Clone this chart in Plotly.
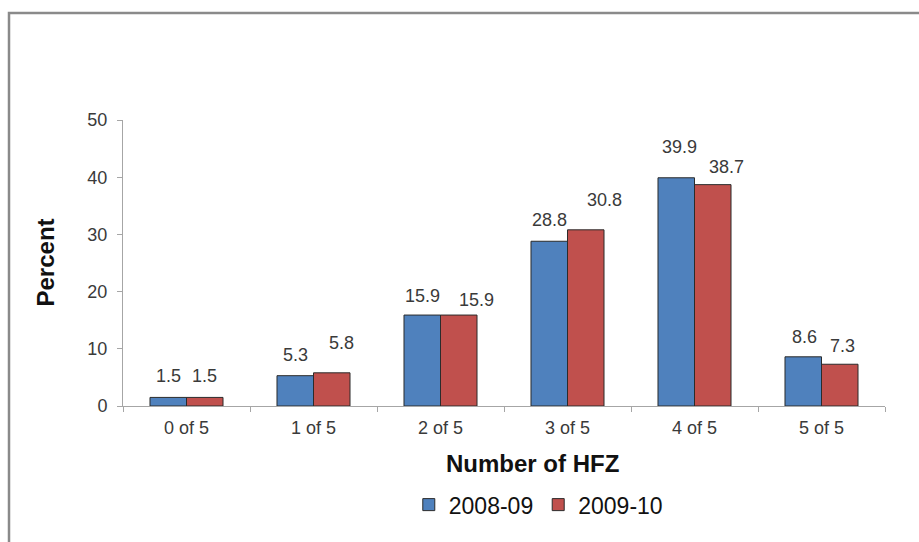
import plotly.graph_objects as go

categories = ["0 of 5", "1 of 5", "2 of 5", "3 of 5", "4 of 5", "5 of 5"]
series_names = ["2008-09", "2009-10"]
values_0809 = [1.5, 5.3, 15.9, 28.8, 39.9, 8.6]
values_0910 = [1.5, 5.8, 15.9, 30.8, 38.7, 7.3]
colors = ["#4F81BD", "#C0504D"]

# Pixel nudges for the value labels (x offset from bar centre, height above bar top)
label_dx = [[0, 0, 0, 0, 3, 1], [0, 10, 18, 19, 14, 3]]
label_dy = [[21, 21, 19, 21, 31, 20], [21, 30, 15, 30, 18, 18]]
bar_half = 18  # half a bar width in px, to centre labels on each bar of the pair

FONT = "Liberation Sans, Arial"
LABEL_COLOR = "#3a3a3a"

fig = go.Figure()
for name, vals, col in zip(series_names, [values_0809, values_0910], colors):
    fig.add_trace(go.Bar(
        x=categories, y=vals, name=name,
        marker=dict(color=col, line=dict(color="#2b2b2b", width=1)),
    ))

annotations = []
for s, vals in enumerate([values_0809, values_0910]):
    side = -1 if s == 0 else 1
    for i, (cat, v) in enumerate(zip(categories, vals)):
        annotations.append(dict(
            x=cat, y=v, xref="x", yref="y", text=f"{v:.1f}", showarrow=False,
            xanchor="center", yanchor="middle",
            xshift=side * bar_half + label_dx[s][i], yshift=label_dy[s][i],
            font=dict(family=FONT, size=18, color=LABEL_COLOR),
        ))

annotations += [
    dict(text="<b>Number of HFZ</b>", xref="paper", yref="paper", x=0.537, y=-0.2,
         xanchor="center", yanchor="middle", showarrow=False,
         font=dict(size=24, color="#111111")),
    dict(text="<b>Percent</b>", xref="paper", yref="paper", x=-0.103, y=0.5,
         xanchor="center", yanchor="middle", showarrow=False, textangle=-90,
         font=dict(size=24, color="#111111")),
]

axis_line = "#a6a6a6"
fig.update_layout(
    width=919, height=542,
    margin=dict(l=123, r=34, t=120, b=136),
    paper_bgcolor="white", plot_bgcolor="white",
    barmode="group", bargap=0.425, bargroupgap=0,
    font=dict(family=FONT, color=LABEL_COLOR),
    showlegend=True,
    legend=dict(orientation="h", x=0.545, xanchor="center", y=-0.345, yanchor="middle",
                font=dict(size=23, color="#111111"), itemwidth=30, tracegroupgap=0),
    xaxis=dict(showline=True, linecolor=axis_line, linewidth=1, ticks="outside",
               ticklen=5, tickcolor=axis_line, tickson="boundaries", ticklabelstandoff=5,
               tickfont=dict(size=18, color=LABEL_COLOR), showgrid=False),
    yaxis=dict(range=[0, 50], dtick=10, showline=True, linecolor=axis_line, linewidth=1,
               ticks="outside", ticklen=5, tickcolor=axis_line, showgrid=False,
               ticklabelstandoff=6,
               zeroline=False, tickfont=dict(size=18, color=LABEL_COLOR)),
    annotations=annotations,
    shapes=[
        dict(type="rect", xref="paper", yref="paper", x0=-0.1496, y0=-0.6, x1=1.1, y1=1.374,
             line=dict(color="#8a8a8a", width=2.5), fillcolor="rgba(0,0,0,0)", layer="below"),
    ],
)

fig.write_html("out.html")
